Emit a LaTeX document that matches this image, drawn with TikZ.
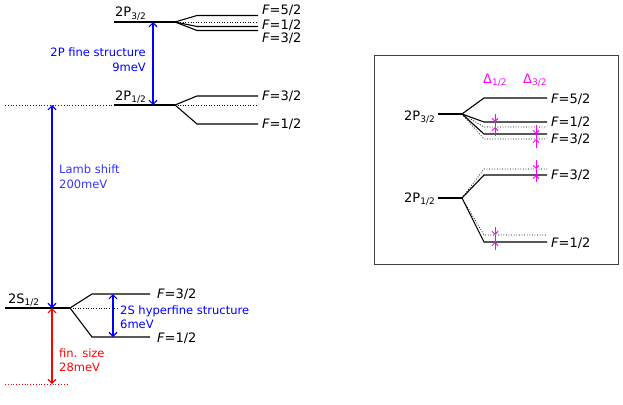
\documentclass[tikz,border=0pt]{standalone}
\usepackage{fontspec}
\setmainfont{DejaVu Sans}
\usetikzlibrary{arrows.meta}
\definecolor{mag}{RGB}{255,0,255}
\definecolor{bl}{RGB}{0,0,255}
\definecolor{rd}{RGB}{255,0,0}
\newcommand\lvsub[1]{\raisebox{-0.35ex}{\fontsize{9}{9}\selectfont #1}}
\newcommand\Fl[1]{{\itshape F}=#1}
\begin{document}
\begin{tikzpicture}[x=1pt,y=-1pt,
  lvl/.style={line width=1.1pt,black},
  dotlvl/.style={line width=0.8pt,dash pattern=on 0.8pt off 1.8pt,black},
  blk/.style={font=\fontsize{13}{15}\selectfont,inner sep=0pt},
  ann/.style={font=\fontsize{11.5}{14.5}\selectfont,inner sep=0pt},
  barrow/.style={bl,line width=1.1pt,{Straight Barb[length=4pt,width=8pt]}-{Straight Barb[length=4pt,width=8pt]}},
  rarrow/.style={rd,line width=1.1pt,{Straight Barb[length=4pt,width=8pt]}-{Straight Barb[length=4pt,width=8pt]}},
  marrow/.style={mag,line width=0.9pt,-{Straight Barb[length=3pt,width=6pt]}},
  mline/.style={mag,line width=0.9pt}]
\useasboundingbox (0,0) rectangle (623,404);

% ---------- left: 2P3/2 ----------
\coordinate (p3l) at (114,22);
\coordinate (p3s) at (175,22);
\coordinate (p3a) at (197,15.5); \coordinate (p3ae) at (258,15.5);
\coordinate (p3de) at (258,22);
\coordinate (p3b) at (197,26.5); \coordinate (p3be) at (258,26.5);
\coordinate (p3c) at (197,30.5); \coordinate (p3ce) at (258,30.5);
\draw[lvl] (p3l) -- (p3s);
\draw[lvl] (p3s) -- (p3a) -- (p3ae);
\draw[lvl] (p3s) -- (p3b) -- (p3be);
\draw[lvl] (p3s) -- (p3c) -- (p3ce);
\draw[dotlvl] (p3s) -- (p3de);
\node[blk,anchor=base west] (lp3) at (115,17) {2P\lvsub{3/2}};
\node[blk,anchor=base west] (f52) at (262,14.5) {\Fl{5/2}};
\node[blk,anchor=base west] (f12a) at (262,30) {\Fl{1/2}};
\node[blk,anchor=base west] (f32a) at (262,42.5) {\Fl{3/2}};

% ---------- left: 2P1/2 ----------
\coordinate (p1l) at (114,105);
\coordinate (p1s) at (175,105);
\coordinate (p1a) at (197,96); \coordinate (p1ae) at (258,96);
\coordinate (p1de) at (258,105);
\coordinate (p1b) at (197,124); \coordinate (p1be) at (258,124);
\coordinate (bdl) at (5,105);
\draw[lvl] (p1l) -- (p1s);
\draw[lvl] (p1s) -- (p1a) -- (p1ae);
\draw[lvl] (p1s) -- (p1b) -- (p1be);
\draw[dotlvl] (p1s) -- (p1de);
\draw[bl,line width=0.9pt,dash pattern=on 1pt off 1.8pt] (bdl) -- (p1l);
\node[blk,anchor=base west] (lp1) at (115,100) {2P\lvsub{1/2}};
\node[blk,anchor=base west] (f32b) at (262,100) {\Fl{3/2}};
\node[blk,anchor=base west] (f12b) at (262,128.5) {\Fl{1/2}};

% ---------- left: 2S1/2 ----------
\coordinate (s1l) at (5,308);
\coordinate (s1s) at (70,308);
\coordinate (s1a) at (92,294); \coordinate (s1ae) at (150,294);
\coordinate (s1b) at (92,337); \coordinate (s1be) at (150,337);
\coordinate (s1de) at (119,308);
\draw[lvl] (s1l) -- (s1s);
\draw[lvl] (s1s) -- (s1a) -- (s1ae);
\draw[lvl] (s1s) -- (s1b) -- (s1be);
\draw[dotlvl] (s1s) -- (s1de);
\node[blk,anchor=base west] (ls1) at (8,303.5) {2S\lvsub{1/2}};
\node[blk,anchor=base west] (f32c) at (157,298.5) {\Fl{3/2}};
\node[blk,anchor=base west] (f12c) at (157,342) {\Fl{1/2}};

\coordinate (rdl) at (5,384);
\coordinate (rdr) at (68,384);
\draw[rd,line width=0.9pt,dash pattern=on 1pt off 1.8pt] (rdl) -- (rdr);

% ---------- arrows ----------
\coordinate (fa1) at (153,22); \coordinate (fa2) at (153,105);
\draw[barrow] (fa1) -- (fa2);
\node[ann,bl,anchor=east,align=right] (tfs) at (146,59.5) {2P fine structure\\9meV};
\coordinate (la1) at (52,105); \coordinate (la2) at (52,308);
\draw[barrow] (la1) -- (la2);
\node[ann,bl!80,anchor=west,align=left] (tls) at (59,176.5) {Lamb shift\\200meV};
\coordinate (ha1) at (113,294); \coordinate (ha2) at (113,337);
\draw[barrow] (ha1) -- (ha2);
\node[ann,bl,anchor=west,align=left] (ths) at (120,317) {2S hyperfine structure\\6meV};
\coordinate (ra1) at (52,308); \coordinate (ra2) at (52,384);
\draw[rarrow] (ra1) -- (ra2);
\node[ann,rd,anchor=west,align=left] (tfin) at (59,360) {fin. size\\28meV};

% ---------- right box ----------
\draw[line width=0.9pt,black!75] (374,55) rectangle (618,264);
\node[blk,mag,anchor=base west] (d12) at (483,83) {Δ\lvsub{1/2}};
\node[blk,mag,anchor=base west] (d32) at (523,83) {Δ\lvsub{3/2}};

% 2P3/2 inset
\coordinate (q3l) at (438,114); \coordinate (q3s) at (462,114);
\coordinate (q3a) at (484,98); \coordinate (q3ae) at (547,98);
\coordinate (q3b) at (484,122); \coordinate (q3be) at (547,122);
\coordinate (q3bd) at (484,127); \coordinate (q3bde) at (547,127);
\coordinate (q3c) at (484,134); \coordinate (q3ce) at (547,134);
\coordinate (q3cd) at (484,139); \coordinate (q3cde) at (547,139);
\draw[lvl] (q3l) -- (q3s);
\draw[lvl] (q3s) -- (q3a) -- (q3ae);
\draw[lvl] (q3s) -- (q3b) -- (q3be);
\draw[lvl] (q3s) -- (q3c) -- (q3ce);
\draw[dotlvl] (q3s) -- (q3bd) -- (q3bde);
\draw[dotlvl] (q3s) -- (q3cd) -- (q3cde);
\node[blk,anchor=base east] (lq3) at (435,120) {2P\lvsub{3/2}};
\node[blk,anchor=base west] (g52) at (551,103) {\Fl{5/2}};
\node[blk,anchor=base west] (g12a) at (551,126.5) {\Fl{1/2}};
\node[blk,anchor=base west] (g32a) at (551,143.5) {\Fl{3/2}};

% 2P1/2 inset
\coordinate (q1l) at (438,198); \coordinate (q1s) at (462,198);
\coordinate (q1a) at (484,175); \coordinate (q1ae) at (547,175);
\coordinate (q1ad) at (484,169); \coordinate (q1ade) at (547,169);
\coordinate (q1b) at (484,242); \coordinate (q1be) at (547,242);
\coordinate (q1bd) at (484,235); \coordinate (q1bde) at (547,235);
\draw[lvl] (q1l) -- (q1s);
\draw[lvl] (q1s) -- (q1a) -- (q1ae);
\draw[lvl] (q1s) -- (q1b) -- (q1be);
\draw[dotlvl] (q1s) -- (q1ad) -- (q1ade);
\draw[dotlvl] (q1s) -- (q1bd) -- (q1bde);
\node[blk,anchor=base east] (lq1) at (435,202) {2P\lvsub{1/2}};
\node[blk,anchor=base west] (g32b) at (551,179.5) {\Fl{3/2}};
\node[blk,anchor=base west] (g12b) at (551,247) {\Fl{1/2}};

% magenta Delta markers
\coordinate (m1t) at (495,114); \coordinate (m1a) at (495,122);
\coordinate (m1b) at (495,127); \coordinate (m1u) at (495,136);
\draw[mline] (m1a) -- (m1b);
\draw[marrow] (m1t) -- (m1a);
\draw[marrow] (m1u) -- (m1b);

\coordinate (m2t) at (536,125); \coordinate (m2a) at (536,134);
\coordinate (m2b) at (536,139); \coordinate (m2u) at (536,148);
\draw[mline] (m2a) -- (m2b);
\draw[marrow] (m2t) -- (m2a);
\draw[marrow] (m2u) -- (m2b);

\coordinate (m3t) at (536,160); \coordinate (m3a) at (536,169);
\coordinate (m3b) at (536,175); \coordinate (m3u) at (536,182);
\draw[mline] (m3a) -- (m3b);
\draw[marrow] (m3t) -- (m3a);
\draw[marrow] (m3u) -- (m3b);

\coordinate (m4t) at (495,227); \coordinate (m4a) at (495,235);
\coordinate (m4b) at (495,242); \coordinate (m4u) at (495,250);
\draw[mline] (m4a) -- (m4b);
\draw[marrow] (m4t) -- (m4a);
\draw[marrow] (m4u) -- (m4b);
\end{tikzpicture}
\end{document}
